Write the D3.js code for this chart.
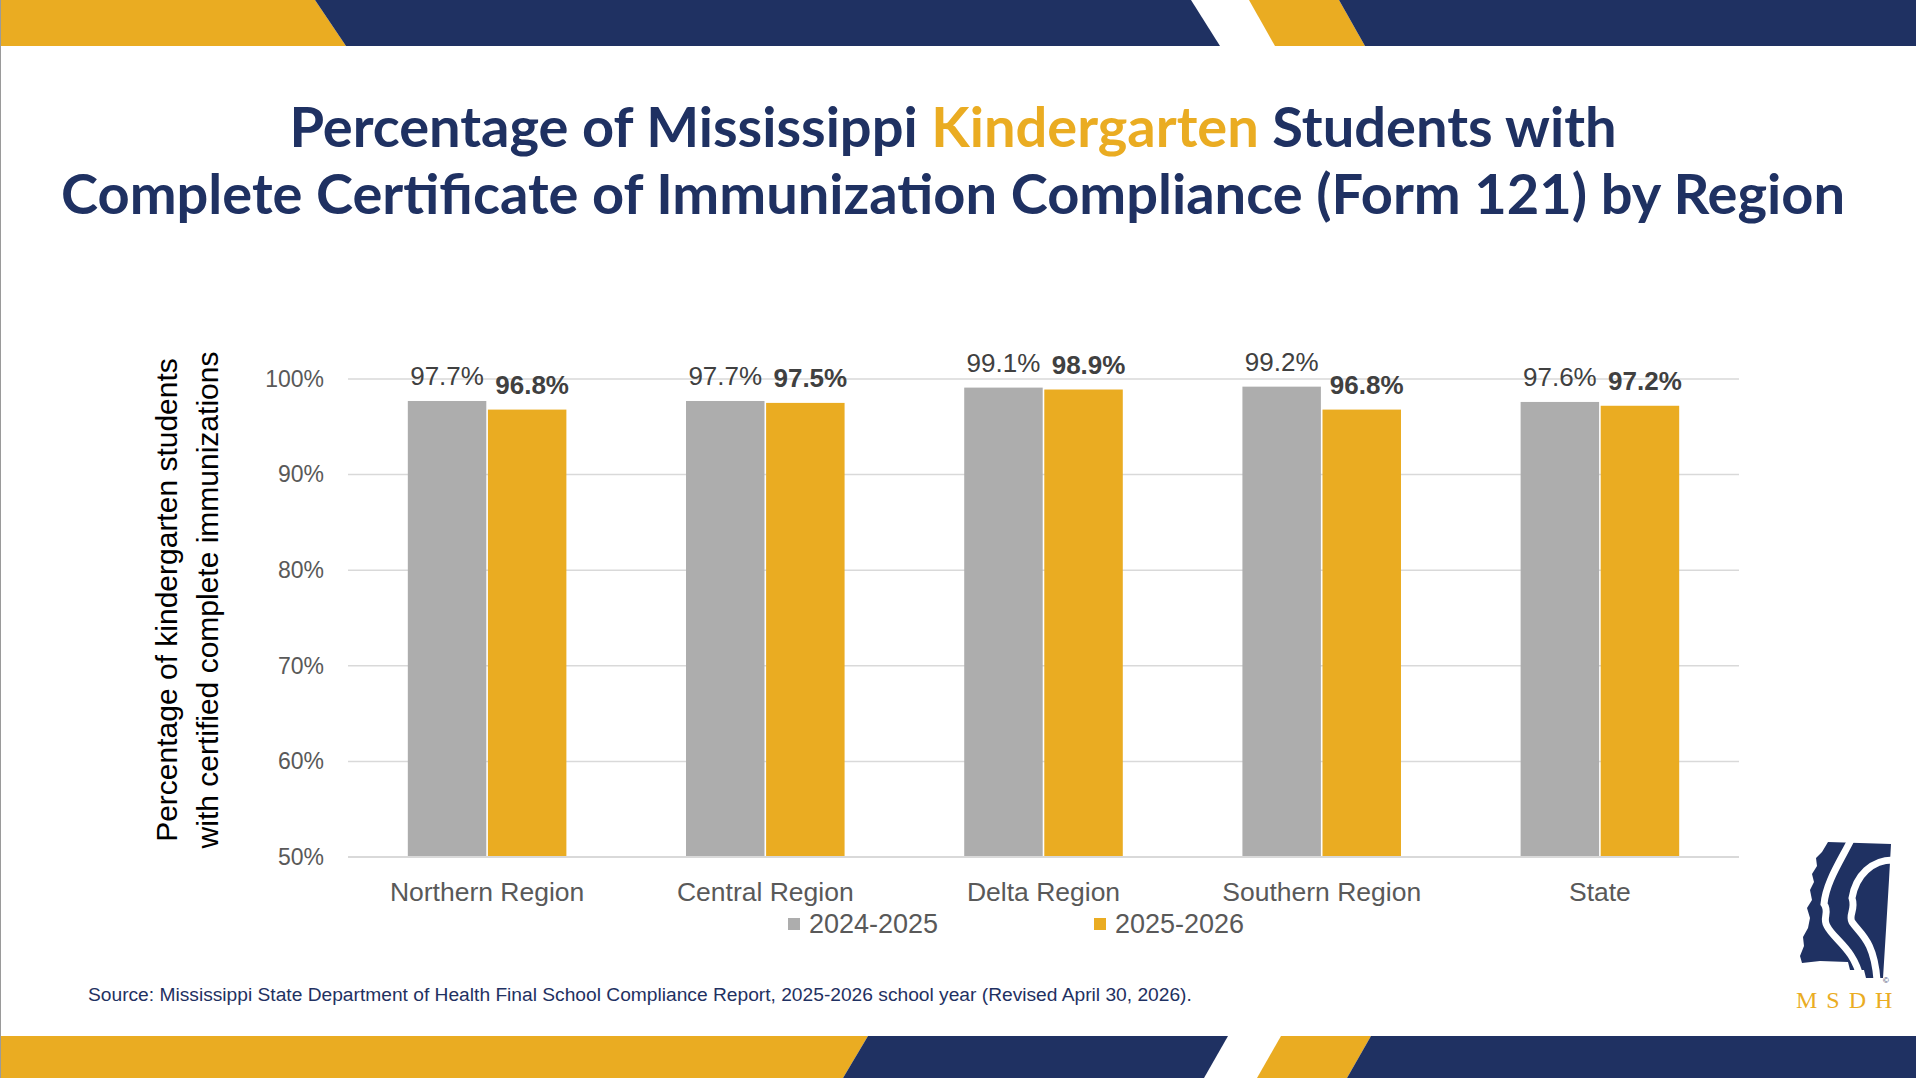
<!DOCTYPE html>
<html>
<head>
<meta charset="utf-8">
<script src="https://cdn.jsdelivr.net/npm/d3@7"></script>
<style>
  html, body { margin: 0; padding: 0; background: #fff; }
  svg { display: block; }
</style>
</head>
<body>
<div id="main_plot"></div>
<script>
// chart values
regions = ["Northern Region", "Central Region", "Delta Region", "Southern Region", "State"];
seriesNames = ["2024-2025", "2025-2026"];
values2024 = [97.7, 97.7, 99.1, 99.2, 97.6];
values2025 = [96.8, 97.5, 98.9, 96.8, 97.2];
yTicks = [50, 60, 70, 80, 90, 100];

width = 1916;
height = 1078;

navy = "#1F3162";
gold = "#EAAC22";
barColors = ["#ADADAD", "#EAAC22"];

function drawBanner(svg, y0, y1, shapes) {
  shapes.forEach(function(s) {
    svg.append("polygon")
      .attr("points", [[s[0], y0], [s[1], y0], [s[2], y1], [s[3], y1]].map(p => p.join(",")).join(" "))
      .attr("fill", s[4]);
  });
}

function makePlot() {
  let svg = d3.select("#main_plot").append("svg")
    .attr("width", width)
    .attr("height", height);

  // top and bottom bands
  drawBanner(svg, 0, 46, [
    [0, 315, 346, 0, gold],
    [315, 1191, 1220, 346, navy],
    [1249, 1339, 1365, 1275, gold],
    [1339, 1916, 1916, 1365, navy]
  ]);
  drawBanner(svg, 1036, 1078, [
    [0, 868, 843, 0, gold],
    [868, 1228, 1204, 843, navy],
    [1281, 1371, 1347, 1257, gold],
    [1371, 1916, 1916, 1347, navy]
  ]);
  svg.append("line").attr("x1", 0.5).attr("x2", 0.5).attr("y1", 0).attr("y2", height)
    .attr("stroke", "#9a9a9a").attr("stroke-width", 1);

  // title
  let title = svg.append("text")
    .attr("text-anchor", "middle")
    .style("font-family", "Lato, 'Open Sans', sans-serif")
    .style("font-weight", 700)
    .style("font-size", "56px")
    .attr("fill", navy);
  let t1 = title.append("tspan").attr("x", 953).attr("y", 147);
  t1.append("tspan").text("Percentage of Mississippi ");
  t1.append("tspan").attr("fill", gold).text("Kindergarten");
  t1.append("tspan").text(" Students with");
  title.append("tspan").attr("x", 953).attr("y", 214)
    .text("Complete Certificate of Immunization Compliance (Form 121) by Region");

  // scales
  let x0 = d3.scaleBand()
    .domain(regions)
    .range([348, 1739])
    .paddingInner(0.43)
    .paddingOuter(0.215);

  let x1 = d3.scaleBand()
    .domain(seriesNames)
    .range([0, x0.bandwidth()])
    .paddingInner(0.02);

  let y = d3.scaleLinear()
    .domain([50, 100])
    .range([857, 379]);

  // gridlines
  svg.append("g")
    .selectAll("line")
    .data(yTicks)
    .enter().append("line")
    .attr("x1", 348)
    .attr("x2", 1739)
    .attr("y1", d => y(d))
    .attr("y2", d => y(d))
    .attr("stroke", "#D9D9D9")
    .attr("stroke-width", 1.5);

  // y axis labels
  let yAxis = d3.axisLeft(y)
    .tickValues(yTicks)
    .tickFormat(d => d + "%")
    .tickSize(0)
    .tickPadding(24);
  let yg = svg.append("g")
    .attr("transform", "translate(348,0)")
    .call(yAxis);
  yg.select(".domain").remove();
  yg.selectAll("text")
    .style("font-family", "'Liberation Sans', Arial, sans-serif")
    .style("font-size", "23px")
    .attr("fill", "#595959");

  // bars
  let groups = regions.map(function(r, i) {
    return {
      region: r,
      values: [
        { name: seriesNames[0], value: values2024[i] },
        { name: seriesNames[1], value: values2025[i] }
      ]
    };
  });

  let group = svg.selectAll(".region")
    .data(groups)
    .enter().append("g")
    .attr("class", "region")
    .attr("transform", d => "translate(" + x0(d.region) + ",0)");

  group.selectAll("rect")
    .data(d => d.values)
    .enter().append("rect")
    .attr("x", d => x1(d.name))
    .attr("width", x1.bandwidth())
    .attr("y", d => y(d.value))
    .attr("height", d => y(50) - y(d.value))
    .attr("fill", (d, i) => barColors[i]);

  group.selectAll(".label")
    .data(d => d.values)
    .enter().append("text")
    .attr("class", "label")
    .attr("x", (d, i) => x1(d.name) + x1.bandwidth() / 2 + (i == 1 ? 5 : 0))
    .attr("y", d => y(d.value) - 16)
    .attr("text-anchor", "middle")
    .style("font-family", "'Liberation Sans', Arial, sans-serif")
    .style("font-size", "26px")
    .style("font-weight", (d, i) => i == 1 ? 700 : 400)
    .attr("fill", "#404040")
    .text(d => d.value.toFixed(1) + "%");

  // baseline
  svg.append("line")
    .attr("x1", 348).attr("x2", 1739)
    .attr("y1", y(50)).attr("y2", y(50))
    .attr("stroke", "#D9D9D9").attr("stroke-width", 2);

  // x axis labels
  let xAxis = d3.axisBottom(x0).tickSize(0).tickPadding(0);
  let xg = svg.append("g")
    .attr("transform", "translate(0," + y(50) + ")")
    .call(xAxis);
  xg.select(".domain").remove();
  xg.selectAll("text")
    .attr("dy", null)
    .attr("y", 44)
    .style("font-family", "'Liberation Sans', Arial, sans-serif")
    .style("font-size", "26.5px")
    .attr("fill", "#595959");

  // y axis title
  let yTitle = svg.append("text")
    .attr("transform", "translate(0,600) rotate(-90)")
    .attr("text-anchor", "middle")
    .style("font-family", "'Liberation Sans', Arial, sans-serif")
    .style("font-size", "30px")
    .attr("fill", "#000");
  yTitle.append("tspan").attr("x", 0).attr("y", 177).text("Percentage of kindergarten students");
  yTitle.append("tspan").attr("x", 0).attr("y", 218).text("with certified complete immunizations");

  // legend
  let legendX = [788, 1094];
  let legend = svg.selectAll(".legend")
    .data(seriesNames)
    .enter().append("g")
    .attr("class", "legend");
  legend.append("rect")
    .attr("x", (d, i) => legendX[i])
    .attr("y", 918)
    .attr("width", 12)
    .attr("height", 12)
    .attr("fill", (d, i) => barColors[i]);
  legend.append("text")
    .attr("x", (d, i) => legendX[i] + 21)
    .attr("y", 933)
    .style("font-family", "'Liberation Sans', Arial, sans-serif")
    .style("font-size", "27px")
    .attr("fill", "#595959")
    .text(d => d);

  // source
  svg.append("text")
    .attr("x", 88)
    .attr("y", 1001)
    .style("font-family", "'Liberation Sans Narrow', 'Liberation Sans', sans-serif")
    .style("font-size", "19.2px")
    .attr("fill", navy)
    .text("Source: Mississippi State Department of Health Final School Compliance Report, 2025-2026 school year (Revised April 30, 2026).");

  // logo (approximate)
  let logo = svg.append("g").attr("transform", "translate(1760,820)");
  logo.append("path")
    .attr("d", "M68,22 L131,24 L129,60 L126,110 L123,158 L106,158 L104,150 L90,150 L88,142 L60,141 L42,143 L40,136 L44,126 L43,117 L48,108 L50,98 L47,88 L52,80 L50,70 L54,62 L52,54 L57,46 L56,38 L62,32 Z")
    .attr("fill", navy);
  logo.append("path")
    .attr("d", "M92,18 C80,42 66,62 64,84 C70,92 62,98 67,106 C74,120 94,128 101,160")
    .attr("fill", "none").attr("stroke", "#fff").attr("stroke-width", 7);
  logo.append("path")
    .attr("d", "M133,40 C112,40 96,55 92,78 C96,90 88,95 92,102 C100,114 114,120 117,160")
    .attr("fill", "none").attr("stroke", "#fff").attr("stroke-width", 7);
  logo.append("text")
    .attr("x", 123).attr("y", 163)
    .style("font-family", "'Liberation Sans', sans-serif")
    .style("font-size", "8px")
    .attr("fill", navy)
    .text("©");
  logo.append("text")
    .attr("x", 36).attr("y", 188)
    .style("font-family", "'Liberation Serif', serif")
    .style("font-size", "24px")
    .style("letter-spacing", "9px")
    .attr("fill", gold)
    .text("MSDH");
}

makePlot();
</script>
</body>
</html>
